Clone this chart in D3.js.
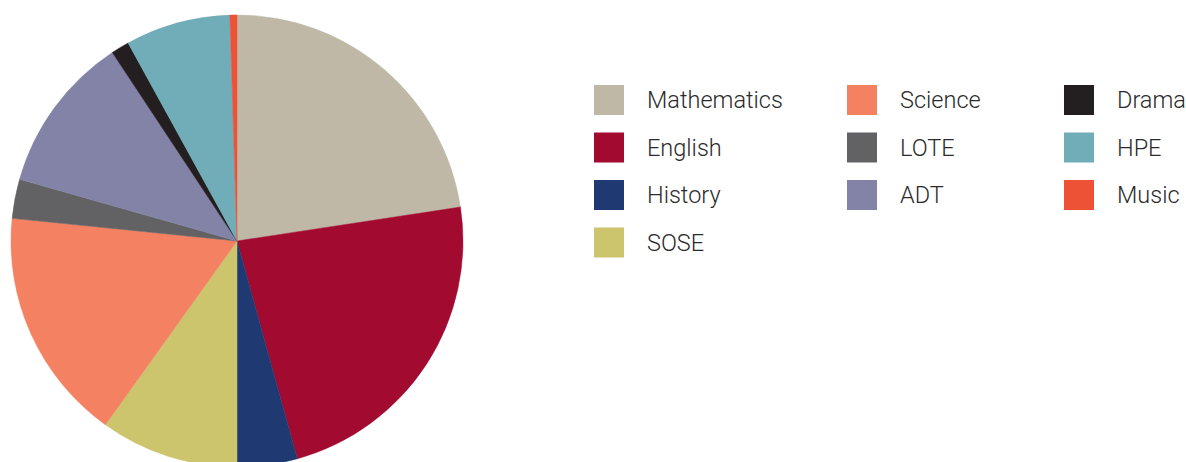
<!DOCTYPE html>
<html>
<head>
<meta charset="utf-8">
<script src="https://cdn.jsdelivr.net/npm/d3@7"></script>
<style>
  body { margin: 0; background: #fff; }
  svg { display: block; }
</style>
</head>
<body>
<svg id="chart" width="1186" height="462"></svg>
<script>
// subjects, shares in percent
const subjects = ["Mathematics", "English", "History", "SOSE", "Science", "LOTE", "ADT", "Drama", "HPE", "Music"];
const shares = [22.6, 23.1, 4.3, 9.9, 16.7, 2.8, 11.3, 1.3, 7.5, 0.5];
const colours = ["#bfb8a6", "#a20a30", "#1f3a72", "#cdc46e", "#f38162", "#626264", "#8283a7", "#231f20", "#70adb8", "#ee5236"];

// legend order, column by column
const legendCols = [
  ["Mathematics", "English", "History", "SOSE"],
  ["Science", "LOTE", "ADT"],
  ["Drama", "HPE", "Music"]
];

const svg = d3.select("#chart");
const cx = 237, cy = 241, radius = 226;

const colour = d3.scaleOrdinal().domain(subjects).range(colours);

const pie = d3.pie().sort(null).value(d => d.value);
const arc = d3.arc().innerRadius(0).outerRadius(radius);

const data = subjects.map((s, i) => ({ key: s, value: shares[i] }));

svg.append("g")
  .attr("transform", "translate(" + cx + "," + cy + ")")
  .selectAll("path")
  .data(pie(data))
  .enter()
  .append("path")
  .attr("d", arc)
  .attr("fill", d => colour(d.data.key))
  .attr("stroke", d => colour(d.data.key))
  .attr("stroke-width", 0.5);

// legend
const colX = d3.scaleOrdinal().domain([0, 1, 2]).range([594, 847, 1064]);
const rowY = d3.scaleLinear().domain([0, 1]).range([100, 147.5]);

const legend = svg.append("g");
legendCols.forEach((col, ci) => {
  const g = legend.selectAll(null)
    .data(col)
    .enter()
    .append("g")
    .attr("transform", (d, ri) => "translate(" + colX(ci) + "," + rowY(ri) + ")");

  g.append("rect")
    .attr("x", 0)
    .attr("y", -15)
    .attr("width", 30)
    .attr("height", 30)
    .attr("fill", d => colour(d));

  g.append("text")
    .attr("x", 53)
    .attr("y", 0)
    .attr("dy", "0.35em")
    .style("font-family", "Roboto, 'Liberation Sans', sans-serif")
    .style("font-weight", 300)
    .style("font-size", "23.5px")
    .attr("fill", "#2b2b2b")
    .text(d => d);
});
</script>
</body>
</html>
